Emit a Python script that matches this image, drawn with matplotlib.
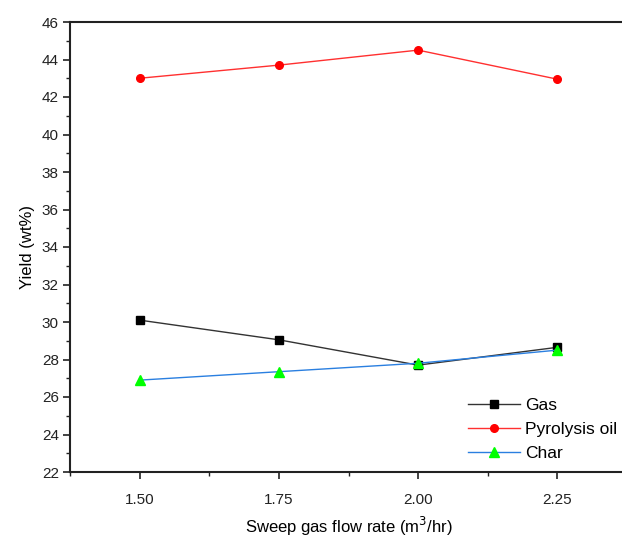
import matplotlib
matplotlib.use("Agg")
import matplotlib.pyplot as plt
from matplotlib.ticker import MultipleLocator, FormatStrFormatter

plt.rcParams['font.family'] = ['Liberation Sans', 'DejaVu Sans']

flow = [1.50, 1.75, 2.00, 2.25]
gas = [30.1, 29.05, 27.7, 28.65]
oil = [43.0, 43.7, 44.5, 42.95]
char = [26.9, 27.35, 27.8, 28.5]
xticks = [1.50, 1.75, 2.00, 2.25]

fig = plt.figure(figsize=(6.22, 5.37), dpi=100)
ax = fig.add_axes([70/622, 65/537, 557/622, 450/537])

ax.plot(flow, gas, color='#333333', lw=1.0, marker='s', ms=5.5, mfc='black', mec='black', label='Gas')
ax.plot(flow, oil, color='#ff3030', lw=1.0, marker='o', ms=5.5, mfc='red', mec='red', label='Pyrolysis oil')
ax.plot(flow, char, color='#2a7fe0', lw=1.0, marker='^', ms=6.5, mfc='#00ff00', mec='#00ff00', label='Char')

ax.set_xlim(1.375, 2.375)
ax.set_ylim(22, 46)
ax.set_xticks(xticks)
ax.xaxis.set_major_formatter(FormatStrFormatter('%.2f'))
ax.xaxis.set_minor_locator(MultipleLocator(0.125))
ax.yaxis.set_major_locator(MultipleLocator(2))
ax.yaxis.set_minor_locator(MultipleLocator(1))

for s in ['left', 'bottom', 'top']:
    ax.spines[s].set_linewidth(1.5)
    ax.spines[s].set_color('#222222')
ax.spines['right'].set_visible(False)

ax.tick_params(which='major', direction='out', length=5, width=1.2, labelsize=11, colors='#222222')
ax.tick_params(which='minor', direction='out', length=3, width=1.0, colors='#222222')
ax.tick_params(axis='x', which='major', pad=10)
ax.tick_params(axis='y', which='major', pad=3)

ax.set_xlabel('Sweep gas flow rate (m$^3$/hr)', fontsize=12)
ax.xaxis.set_label_coords(0.5, -0.095)
ax.set_ylabel('Yield (wt%)', fontsize=12, labelpad=5)

fig.legend(*ax.get_legend_handles_labels(), loc='upper left',
           bbox_to_anchor=(468/622, 1 - 398/537), frameon=False, fontsize=12.5,
           handlelength=3.0, handletextpad=0.3, labelspacing=0.5, borderaxespad=0.0,
           borderpad=0.0)

fig.savefig('out.png', dpi=100)
